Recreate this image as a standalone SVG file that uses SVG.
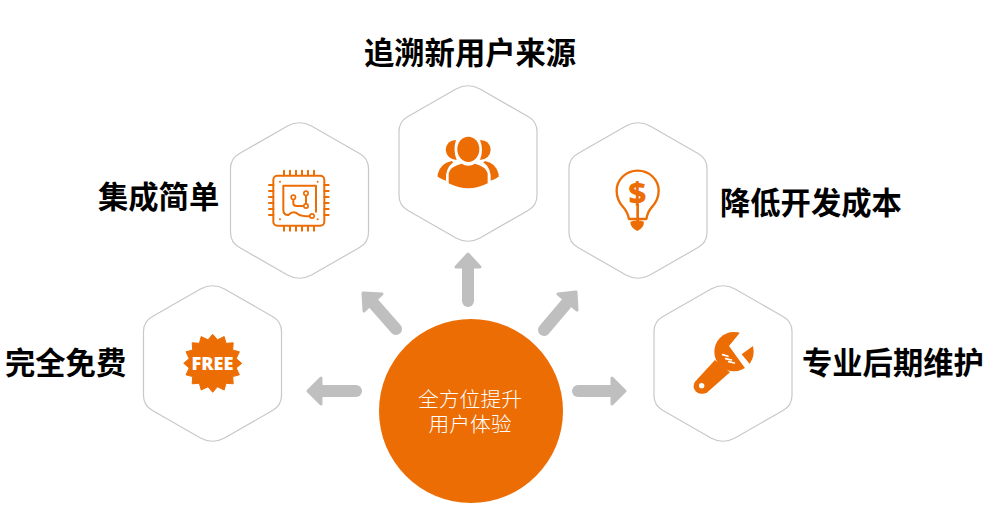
<svg xmlns="http://www.w3.org/2000/svg" width="1005" height="519" viewBox="0 0 1005 519">
<style>
.t{font-family:"Noto Sans CJK SC","Noto Sans",sans-serif;font-size:30.300px;font-weight:700;fill:#000}
.c{font-family:"Noto Sans CJK SC","Noto Sans",sans-serif;font-size:20.800px;font-weight:300;fill:#fff;text-anchor:middle}
.hex{fill:#fff;stroke:#c8c8c8;stroke-width:1.2}
.o{fill:#ed6d05}
.l{fill:none;stroke:#ed6d05;stroke-linecap:round;stroke-linejoin:round}
.s{fill:none;stroke:#bfbfbf;stroke-width:12;stroke-linecap:round}
.h{fill:#bfbfbf;stroke:#bfbfbf;stroke-width:3;stroke-linejoin:round}
</style>
<defs>
<path id="hx" d="M-12,-74.500Q0,-81 12,-74.500L60,-47Q69,-42 69,-32L69,32Q69,42 60,47L12,74.500Q0,81 -12,74.500L-60,47Q-69,42 -69,32L-69,-32Q-69,-42 -60,-47Z"/>
</defs>
<g id="connectors">
<path class="s" d="M468,301V266"/><path class="h" d="M468,254L480,267H456Z"/>
<path class="s" d="M396,329L374,304"/><path class="h" d="M363,293L382,294L364,311Z"/>
<path class="s" d="M544,330L566,304"/><path class="h" d="M576,292L577,310L558,294Z"/>
<path class="s" d="M356,391H320"/><path class="h" d="M308,391L321,378V404Z"/>
<path class="s" d="M578,391H614"/><path class="h" d="M625,391L612,378V404Z"/>
</g>
<g id="node-top">
<use href="#hx" class="hex" x="468" y="163.500"/>
<g transform="translate(400,85) scale(.3333)" class="o">
<ellipse cx="205" cy="193" rx="33" ry="38"/>
<path d="M146,265Q150,245 185,236Q205,248 225,236Q258,245 263,265L263,295Q205,325 146,295Z"/>
<path d="M168,165Q140,165 137,195Q140,222 170,225Q158,195 168,165Z"/>
<path d="M240,165Q270,165 272,195Q270,222 240,225Q252,195 240,165Z"/>
<path d="M155,228Q120,235 113,268L113,275Q125,283 138,287Q135,250 160,232Z"/>
<path d="M255,228Q290,235 296,268L296,275Q285,283 272,287Q275,250 250,232Z"/>
</g>
<text class="t" x="364" y="64">追溯新用户来源</text>
</g>
<g id="node-chip">
<use href="#hx" class="hex" x="299.500" y="200.500"/>
<g transform="translate(230,120) scale(.3333)">
<rect class="l" x="130" y="167" width="153" height="150" rx="12" stroke-width="6"/>
<path class="l" stroke-width="6" d="M162,152V166M180,152V166M198,152V166M216,152V166M234,152V166M252,152V166M162,318V332M180,318V332M198,318V332M216,318V332M234,318V332M252,318V332M117,195H130M117,213H130M117,231H130M117,249H130M117,267H130M117,285H130M283,195H296M283,213H296M283,231H296M283,249H296M283,267H296M283,285H296"/>
<path class="l" stroke-width="6" d="M160,215V197H258V275M160,215V270Q160,285 175,285Q190,270 205,283Q215,289 240,289M190,238V250Q190,258 200,258H222M228,226V252"/>
<circle cx="190" cy="232" r="6.500" fill="#fff" stroke="#ed6d05" stroke-width="5"/>
<circle cx="228" cy="220" r="6.500" fill="#fff" stroke="#ed6d05" stroke-width="5"/>
<circle cx="228" cy="258" r="6.500" fill="#fff" stroke="#ed6d05" stroke-width="5"/>
<circle cx="246" cy="288" r="6.500" fill="#fff" stroke="#ed6d05" stroke-width="5"/>
<g class="o"><circle cx="150" cy="185" r="3"/><circle cx="263" cy="185" r="3"/><circle cx="150" cy="298" r="3"/><circle cx="263" cy="298" r="3"/></g>
</g>
<text class="t" x="98" y="208">集成简单</text>
</g>
<g id="node-bulb">
<use href="#hx" class="hex" x="638" y="200.500"/>
<g transform="translate(570,120) scale(.3333)">
<path class="l" stroke-width="7" d="M177,297Q172,275 160,262Q140,240 140,212A63,60 0 1 1 266,212Q266,240 245,262Q233,275 229,297Z"/>
<path class="l" stroke-width="8" d="M203,255V305"/>
<path class="o" d="M181,305Q203,298 222,305Q222,323 202,333Q181,323 181,305Z"/>
<text x="202" y="252" font-family="'Open Sans','Liberation Sans',sans-serif" font-weight="800" font-size="92" text-anchor="middle" fill="#ed6d05">$</text>
</g>
<text class="t" x="720" y="214">降低开发成本</text>
</g>
<g id="node-free">
<use href="#hx" class="hex" x="212.500" y="363.500"/>
<path transform="translate(212.700,363.300)" class="o" stroke="#ed6d05" stroke-width="1" stroke-linejoin="round" d="M0,-29L4.700,-23.500L11.500,-26.700L13.300,-20L20.500,-20.500L20,-13.300L26.700,-11.500L23.500,-4.700L29,0L23.500,4.700L26.700,11.500L20,13.300L20.500,20.500L13.300,20L11.500,26.700L4.700,23.500L0,29L-4.700,23.500L-11.500,26.700L-13.300,20L-20.500,20.500L-20,13.300L-26.700,11.500L-23.500,4.700L-29,0L-23.500,-4.700L-26.700,-11.500L-20,-13.300L-20.500,-20.500L-13.300,-20L-11.500,-26.700L-4.700,-23.500Z"/>
<text x="212.500" y="370" font-family="'Noto Sans','Open Sans',sans-serif" font-weight="900" font-size="17.500" text-anchor="middle" textLength="42" lengthAdjust="spacingAndGlyphs" fill="#fff">FREE</text>
<text class="t" x="5" y="374">完全免费</text>
</g>
<g id="node-wrench">
<use href="#hx" class="hex" x="723" y="363.500"/>
<g transform="translate(650,285) scale(.3333)">
<circle class="o" cx="252" cy="200" r="59"/>
<path class="o" d="M135,290L195,225L240,262L172,322Q155,332 138,320Q125,305 135,290Z"/>
<path fill="#fff" d="M237,183L287,252L300,238L275,208L309,183L325,135L272,140Z"/>
<circle cx="155" cy="302" r="8" fill="#fff"/>
<path fill="none" stroke="#fff" stroke-width="5" stroke-linecap="round" d="M218,209L234,214M227,221L244,225M236,230L253,234"/>
</g>
<text class="t" x="802" y="374">专业后期维护</text>
</g>
<g id="node-center">
<circle class="o" cx="471" cy="411" r="92"/>
<text class="c" x="470" y="407">全方位提升</text>
<text class="c" x="470" y="432">用户体验</text>
</g>
</svg>
